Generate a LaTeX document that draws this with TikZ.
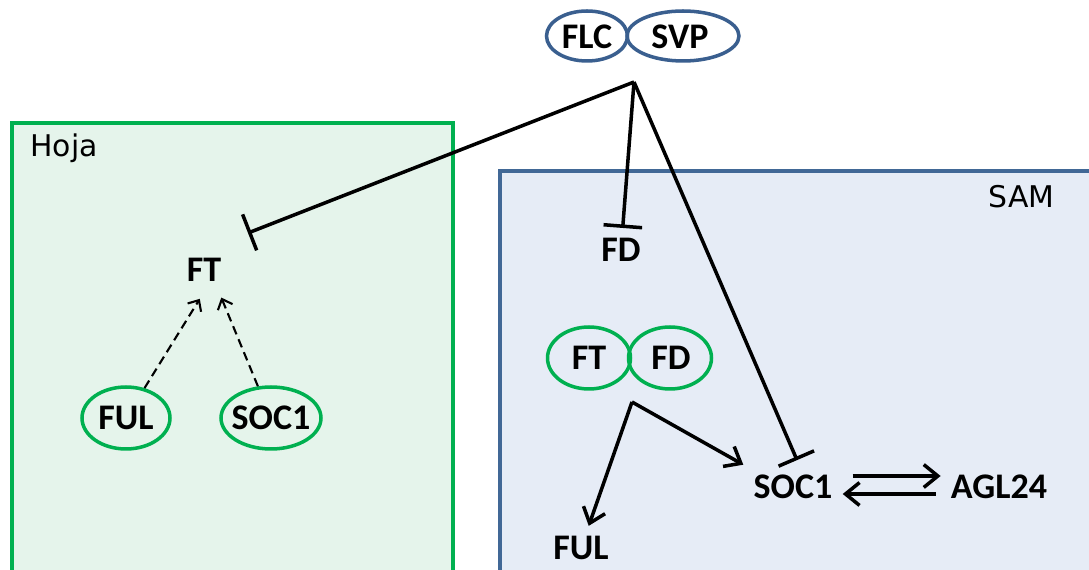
\documentclass[tikz,border=0pt]{standalone}
\usepackage{fontspec}
\setmainfont{Carlito}
\newfontfamily\boxfont{DejaVu Sans}
\usetikzlibrary{shapes.geometric,arrows.meta}
\definecolor{leafgreen}{RGB}{0,176,80}
\definecolor{leaffill}{RGB}{229,244,235}
\definecolor{samblue}{RGB}{65,104,150}
\definecolor{samfill}{RGB}{230,236,246}
\definecolor{cplxblue}{RGB}{58,95,143}

\begin{document}
\begin{tikzpicture}[
    x=0.02cm,
    y=-0.02cm,
    every node/.style={font=\fontsize{20.5}{23}\selectfont\bfseries},
    gene/.style={inner sep=0.2cm},
    cplx/.style={draw, ellipse, line width=2pt, inner sep=0pt},
    region/.style={font=\boxfont\fontsize{17}{20}\selectfont, inner sep=0pt},
    act/.style={line width=2pt, -{Straight Barb[length=8pt,width=13pt]}},
    inhib/.style={line width=2pt, -{Bar[width=22pt]}},
    hint/.style={line width=1.2pt, dash pattern=on 5pt off 3pt,
      -{Straight Barb[length=5pt,width=9pt]}}
  ]
    \useasboundingbox (0, 0) rectangle (1089, 570);
    \fill[white] (0, 0) rectangle (1089, 570);

    \draw[leafgreen, fill=leaffill, line width=2pt] (12, 600) rectangle (453, 123);
    \draw[samblue, fill=samfill, line width=2pt] (500, 600) rectangle (1120, 171);
    \node[region, anchor=base west] (hoja) at (30, 157) {Hoja};
    \node[region, anchor=base east] (sam) at (1055, 208) {SAM};

    \node[cplx, cplxblue, minimum width=1.62cm, minimum height=1cm] (flc) at (587, 36) {};
    \node[cplx, cplxblue, minimum width=2.24cm, minimum height=1cm] (svp) at (683, 36) {};
    \node (flctxt) at (587, 37) {FLC};
    \node (svptxt) at (680, 37) {SVP};
    \coordinate (fork) at (634, 82);

    \node[gene] (ft) at (204, 270) {FT};
    \node[cplx, leafgreen, minimum width=1.76cm, minimum height=1.24cm] (hful) at (126, 418) {};
    \node[cplx, leafgreen, minimum width=2cm, minimum height=1.24cm] (hsoc) at (271, 418) {};
    \node (hfultxt) at (126, 418) {FUL};
    \node (hsoctxt) at (271, 418) {SOC1};
    \coordinate (ftbar) at (248, 233);

    \node[gene] (fd) at (621, 250) {FD};
    \node[cplx, leafgreen, minimum width=1.66cm, minimum height=1.24cm] (sft) at (589, 358) {};
    \node[cplx, leafgreen, minimum width=1.66cm, minimum height=1.24cm] (sfd) at (670, 358) {};
    \node (sfttxt) at (589, 358) {FT};
    \node (sfdtxt) at (671, 358) {FD};
    \coordinate (split) at (632, 402);
    \node[gene] (sful) at (581, 548) {FUL};
    \node[gene] (ssoc) at (793, 487) {SOC1};
    \node[gene] (agl) at (999, 487) {AGL24};

    \draw[inhib] (fork) -- (ftbar);
    \draw[inhib] (fork) -- (fd);
    \draw[inhib, shorten >=0.1cm] (fork) -- ([xshift=0.12cm]ssoc.north);
    \draw[hint, shorten >=0.16cm] (hful) -- (ft.south);
    \draw[hint, shorten >=0.12cm] (hsoc) -- ([xshift=0.3cm]ft.south);
    \draw[act] (split) -- (sful);
    \draw[act] (split) -- (ssoc.north west);
    \draw[act, shorten <=0.2cm] ([yshift=0.22cm]ssoc.east) -- ([yshift=0.22cm]agl.west);
    \draw[act, shorten <=0.1cm] ([yshift=-0.14cm]agl.west) -- ([yshift=-0.14cm]ssoc.east);
  \end{tikzpicture}
\end{document}
